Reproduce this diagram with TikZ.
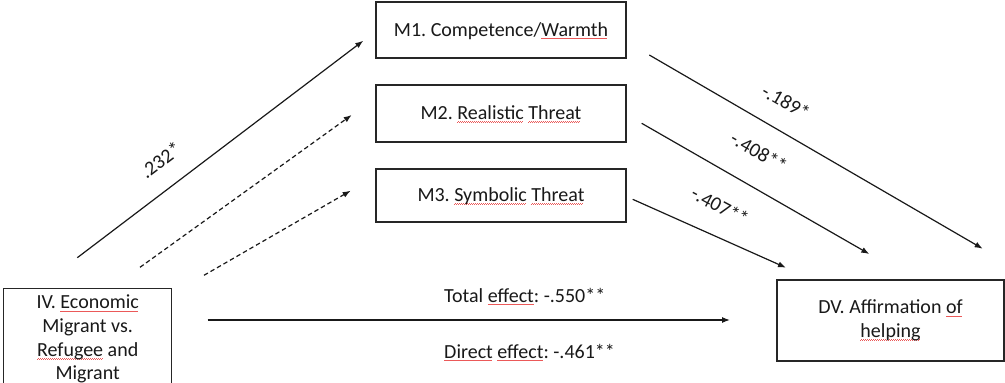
\documentclass[tikz,border=0pt]{standalone}
\usepackage{fontspec}
\setmainfont{Carlito}
\usetikzlibrary{arrows.meta}
\definecolor{squig}{rgb}{0.92,0.35,0.35}
\newsavebox\sqbox
\newcommand\sq[1]{\sbox\sqbox{#1}\rlap{\color{squig}\raisebox{-2.8pt}[0pt][0pt]{\leaders\hbox to 2pt{\rule{1pt}{0.5pt}\rule[0.5pt]{1pt}{0.5pt}}\hskip\wd\sqbox}}#1}
\frenchspacing
\begin{document}
\begin{tikzpicture}[x=1pt,y=-1pt,
  txt/.style={font=\fontsize{20}{23.7}\selectfont, text=black!90},
  box/.style={txt, draw=black!85, line width=1.4pt, inner sep=0pt},
  lbl/.style={txt, inner sep=0pt},
  conn/.style={line width=1.2pt, draw=black!90, -{Latex[length=8pt,width=6pt]}},
  dconn/.style={conn, dash pattern=on 4.5pt off 3pt}]
\clip (0,0) rectangle (1005,383);
\fill[white] (0,0) rectangle (1005,383);

% mediator boxes
\node[box, minimum width=250, minimum height=56, text height=16, text depth=4] (m1) at (501,30) {M1. Competence/\sq{Warmth}};
\node[box, minimum width=250, minimum height=57, text height=16, text depth=4] (m2) at (501,113.5) {M2. \sq{Realistic} \sq{Threat}};
\node[box, minimum width=250, minimum height=53, text height=16, text depth=4] (m3) at (501,195.5) {M3. \sq{Symbolic} \sq{Threat}};

% IV and DV
\node[box, anchor=north west, minimum width=168, minimum height=101, align=center] (iv) at (3,288)
  {IV. \sq{Economic}\\Migrant vs.\\\sq{Refugee} and\\Migrant};
\node[box, minimum width=227, minimum height=81, align=center] (dv) at (890.5,320.5)
  {DV. Affirmation \sq{of}\\\sq{helping}};

% arrow end points
\coordinate (a1s) at (77.3,257.7);  \coordinate (a1e) at (363.3,40.7);
\coordinate (a2s) at (140,267.3);   \coordinate (a2e) at (351.7,115);
\coordinate (a3s) at (204,275.3);   \coordinate (a3e) at (350.7,190.7);
\coordinate (b1s) at (649.3,55);    \coordinate (b1e) at (982.7,248.7);
\coordinate (b2s) at (641.7,123.3); \coordinate (b2e) at (869.3,254);
\coordinate (b3s) at (632.7,199.3); \coordinate (b3e) at (786,267.7);
\coordinate (tots) at (207.7,320);  \coordinate (tote) at (730,320);

\draw[conn]  (a1s) -- (a1e);
\draw[dconn] (a2s) -- (a2e);
\draw[dconn] (a3s) -- (a3e);
\draw[conn]  (b1s) -- (b1e);
\draw[conn]  (b2s) -- (b2e);
\draw[conn]  (b3s) -- (b3e);
\draw[conn]  (tots) -- (tote);

% labels
\node[lbl, rotate=37.2] (l1) at (160.5,160) {.232*};
\node[lbl, rotate=-30] (l2) at (786,102) {-.189*};
\node[lbl, rotate=-30] (l3) at (759,152) {-.408**};
\node[lbl, rotate=-28] (l4) at (720,206) {-.407**};
\node[lbl, anchor=base west] (tel) at (444,302) {Total \sq{effect}: -.550**};
\node[lbl, anchor=base west] (del) at (444,358) {\sq{Direct} \sq{effect}: -.461**};
\end{tikzpicture}
\end{document}
